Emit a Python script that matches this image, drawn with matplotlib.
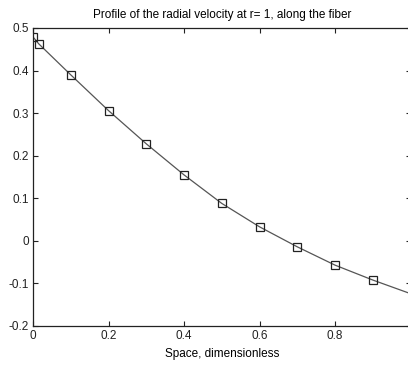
import matplotlib
matplotlib.use('Agg')
import matplotlib.pyplot as plt

# Pontos com marcador
x_marc = [0.0, 0.015, 0.1, 0.2, 0.3, 0.4, 0.5, 0.6, 0.7, 0.8, 0.9]
v_marc = [0.479, 0.463, 0.390, 0.306, 0.228, 0.155, 0.088, 0.033, -0.014, -0.057, -0.092]

# Curva continua (mesmos pontos + extremidade em x=1)
x_linha = x_marc + [1.0]
v_linha = v_marc + [-0.124]

x_ticks = [0, 0.2, 0.4, 0.6, 0.8]
x_tick_labels = ['0', '0.2', '0.4', '0.6', '0.8']
y_ticks = [-0.2, -0.1, 0, 0.1, 0.2, 0.3, 0.4, 0.5]
y_tick_labels = ['-0.2', '-0.1', '0', '0.1', '0.2', '0.3', '0.4', '0.5']


def gerar_grafico():
    plt.rcParams['font.family'] = ['Liberation Sans', 'DejaVu Sans']
    plt.rcParams['font.size'] = 8.5

    fig = plt.figure(figsize=(4.08, 3.66), dpi=100)
    ax = fig.add_axes([33 / 408, 1 - 326 / 366, 377.5 / 408, 298 / 366])

    ax.plot(x_linha, v_linha, '-', color='#555555', linewidth=0.9)
    ax.plot(x_marc, v_marc, 's', markersize=5.5, markerfacecolor='none',
            markeredgecolor='#222222', markeredgewidth=0.9)

    ax.set_xlim(0, 1)
    ax.set_ylim(-0.2, 0.5)
    ax.set_xticks(x_ticks)
    ax.set_xticklabels(x_tick_labels)
    ax.set_yticks(y_ticks)
    ax.set_yticklabels(y_tick_labels)
    ax.tick_params(direction='in', length=3.5, width=0.8, top=True, right=True,
                   labelsize=8.5, pad=3, colors='#222222')
    for s in ax.spines.values():
        s.set_linewidth(0.9)
        s.set_color('#222222')

    ax.set_title('Profile of the radial velocity at r= 1, along the fiber',
                 fontsize=8.5, pad=7)
    ax.set_xlabel('Space, dimensionless', fontsize=8.5, labelpad=4)

    fig.savefig('out.png', dpi=100)


if __name__ == "__main__":
    gerar_grafico()
